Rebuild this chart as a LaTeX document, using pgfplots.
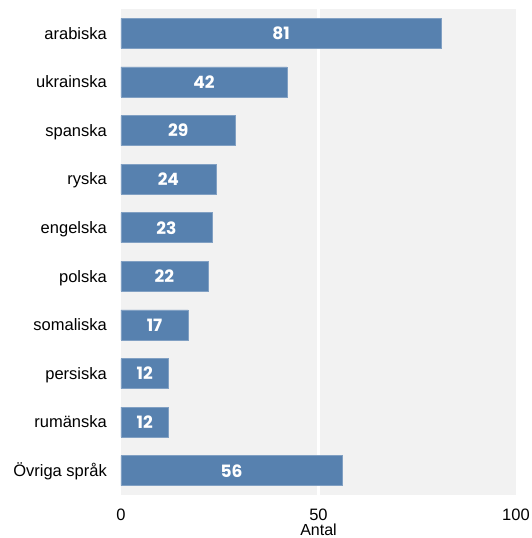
\documentclass[border=0pt]{standalone}
\usepackage{pgfplots}
\pgfplotsset{compat=1.18}
\usepackage{pgfplotstable}
\usepackage{fontspec}
\setmainfont{Liberation Sans}
\newfontfamily\barfont{Poppins}
\definecolor{barblue}{RGB}{87,129,175}
\definecolor{panel}{RGB}{242,242,242}
\pgfplotstableread[col sep=comma]{
idx,val,name
0,81,arabiska
1,42,ukrainska
2,29,spanska
3,24,ryska
4,23,engelska
5,22,polska
6,17,somaliska
7,12,persiska
8,12,rumänska
9,56,Övriga språk
}\data
\begin{document}
\begin{tikzpicture}
\begin{axis}[
  at={(0,0)}, anchor=south west,
  scale only axis, width=395pt, height=486pt,
  xmin=0, xmax=100, ymin=-0.5, ymax=9.5, y dir=reverse,
  axis line style={draw=none},
  axis background/.style={fill=panel},
  xtick={0,50,100}, ytick={0,...,9},
  yticklabels from table={\data}{name},
  major tick length=0pt,
  tick label style={font=\fontsize{16.5}{19}\selectfont},
  /pgf/number format/assume math mode=true,
  xticklabel style={anchor=base, yshift=-25.5pt, inner sep=0pt},
  yticklabel style={anchor=base east, xshift=-14pt, yshift=-5.8pt, inner sep=0pt},
  xlabel={Antal},
  xlabel style={at={(axis description cs:0.5,0)}, anchor=base, yshift=-40.5pt, inner sep=0pt, font=\fontsize{16}{19}\selectfont},
  extra x ticks={50}, extra x tick labels={},
  extra x tick style={grid=major, major grid style={white, line width=2.6pt}},
  clip=false,
]
\addplot[xbar, bar width=30pt, fill=barblue, draw=barblue!75!white, line width=0.5pt]
  table[x=val, y=idx]{\data};
\addplot[draw=none, mark=none, nodes near coords, point meta=explicit symbolic,
  nodes near coords style={anchor=center, inner sep=0pt, text=white, font=\barfont\bfseries\fontsize{17}{20}\selectfont}]
  table[x expr=\thisrow{val}/2, y=idx, meta=val]{\data};
\end{axis}
\pgfresetboundingbox
\path[use as bounding box] (-121pt,-43pt) rectangle (411pt,495pt);
\end{tikzpicture}
\end{document}
